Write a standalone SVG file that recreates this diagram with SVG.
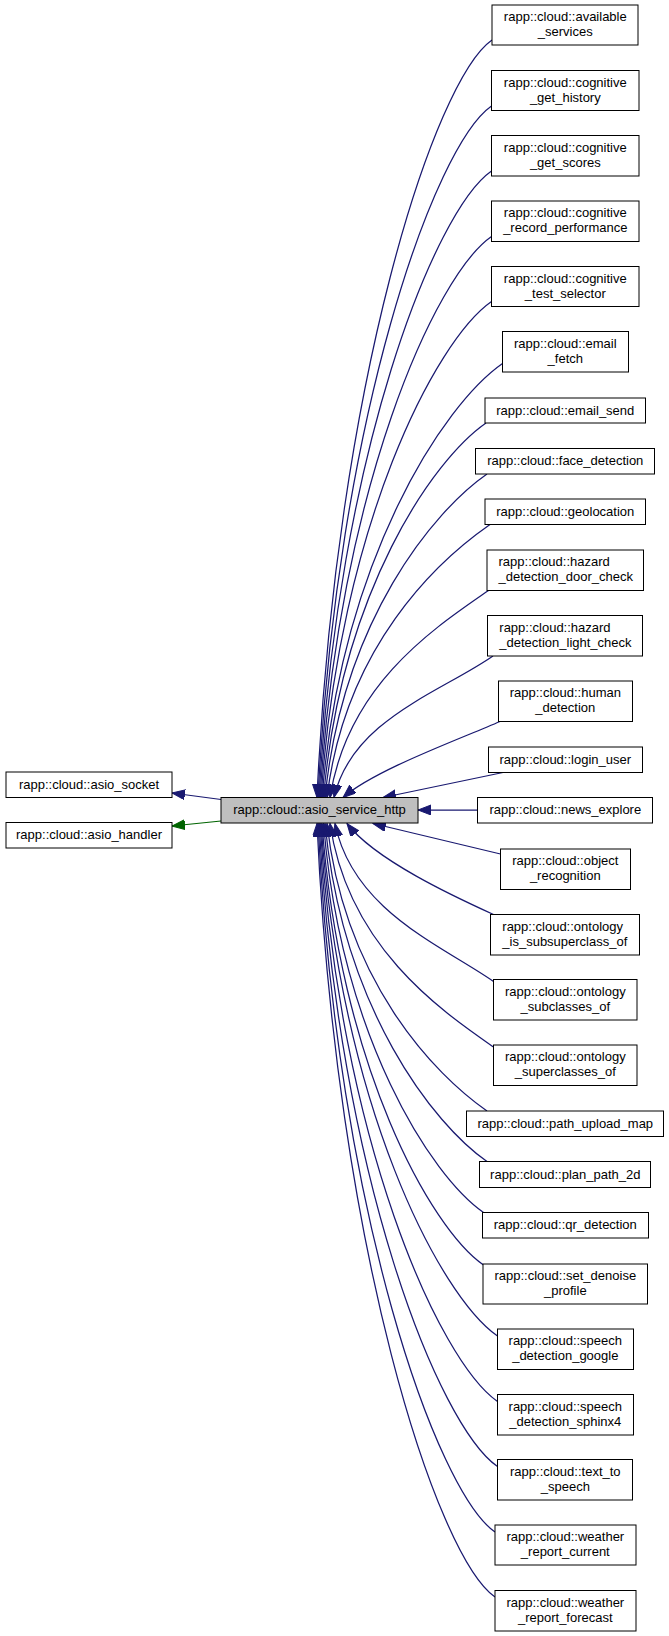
<svg xmlns="http://www.w3.org/2000/svg" width="669" height="1636" viewBox="0 0 669 1636">
<style>
.n rect{fill:#fff;stroke:#000;stroke-width:1}
#center rect{fill:#bfbfbf}
text{font-family:"Liberation Sans",Arial,Helvetica,sans-serif;font-size:13px;fill:#000;text-anchor:middle}
text.l{text-anchor:start}
#edges path{fill:none;stroke:#191970;stroke-width:1.25;marker-end:url(#ab)}
#edges path.g{stroke:#006400;marker-end:url(#ag)}
</style>
<defs>
<marker id="ab" markerUnits="userSpaceOnUse" markerWidth="14" markerHeight="11" refX="13" refY="5" orient="auto"><path d="M0,0 L13,5 L0,10 z" fill="#191970" stroke="#191970"/></marker>
<marker id="ag" markerUnits="userSpaceOnUse" markerWidth="14" markerHeight="11" refX="13" refY="5" orient="auto"><path d="M0,0 L13,5 L0,10 z" fill="#006400" stroke="#006400"/></marker>
</defs>
<rect width="669" height="1636" fill="#fff"/>
<g id="edges">
<path class="g" d="M221,821 L172,826"/>
<path d="M221,799.5 L172,793"/>
<path d="M492,40 C434.6,79.9 336,380.9 317,797.5"/>
<path d="M491.5,106 C434.6,145.6 336.9,417.2 318,797.5"/>
<path d="M491.5,171 C434.9,210.3 337.8,452.9 319,797.5"/>
<path d="M491.5,236.5 C435.2,275.6 338.7,488.9 320,797.5"/>
<path d="M491.5,301.5 C435.6,340.4 339.6,524.7 321,797.5"/>
<path d="M502.5,363.5 C443.3,404.7 341.4,558.8 322,797.5"/>
<path d="M486,423 C432.7,460 341.5,591.5 323.5,797.5"/>
<path d="M487,474 C433.9,510.9 343,619.6 325,797.5"/>
<path d="M490,524.5 C436.5,561.7 345,647.3 327,797.5"/>
<path d="M488.5,590.5 C436.5,626.6 347.7,683.6 330,797.5"/>
<path d="M493,656 C440.8,692.3 351.7,719.7 334,797.5"/>
<path d="M500,721.5 C455,741 375,770 343,797.5"/>
<path d="M503,772.5 L383,797.5"/>
<path d="M477.5,810 L418,810"/>
<path d="M500.5,854 L373,823.5"/>
<path d="M493.5,914.5 C455,897 375,860 347,823.5"/>
<path d="M493.5,981.5 C441.5,945.4 352.7,910.4 335,823.5"/>
<path d="M493.5,1047 C439.9,1009.7 348.1,946.4 330,823.5"/>
<path d="M487,1111 C434.5,1074.5 344.8,981.6 327,823.5"/>
<path d="M487,1161.5 C433.9,1124.6 343,1009.4 325,823.5"/>
<path d="M483.5,1212.5 C431,1176 341.3,1037.5 323.5,823.5"/>
<path d="M483.5,1265 C430.5,1228.2 339.9,1066.3 322,823.5"/>
<path d="M497.5,1336 C439.6,1295.8 340.1,1105.4 321,823.5"/>
<path d="M497.5,1401.5 C439.3,1361 339.2,1141.4 320,823.5"/>
<path d="M497.5,1466.5 C438.9,1425.8 338.3,1177.2 319,823.5"/>
<path d="M495,1532 C436.9,1491.6 337.2,1213.2 318,823.5"/>
<path d="M495,1597 C436.6,1556.4 336.2,1248.9 317,823.5"/>
</g>
<g id="center" class="n"><rect x="221" y="797.5" width="197" height="25.5"/><text x="319.5" y="814.25">rapp::cloud::asio_service_http</text></g>
<g id="asio_socket" class="n"><rect x="6" y="772" width="166" height="25.5"/><text x="89" y="788.75">rapp::cloud::asio_socket</text></g>
<g id="asio_handler" class="n"><rect x="6" y="822.5" width="166" height="25.5"/><text x="89" y="839.25">rapp::cloud::asio_handler</text></g>
<g id="available_services" class="n"><rect x="492" y="5" width="146" height="40"/><text x="565.3" y="21">rapp::cloud::available</text><text x="565.3" y="36">_services</text></g>
<g id="cognitive_get_history" class="n"><rect x="491.5" y="70.5" width="147.5" height="40"/><text x="565.3" y="86.5">rapp::cloud::cognitive</text><text x="565.3" y="101.5">_get_history</text></g>
<g id="cognitive_get_scores" class="n"><rect x="491.5" y="135.5" width="147.5" height="40.5"/><text x="565.3" y="151.75">rapp::cloud::cognitive</text><text x="565.3" y="166.75">_get_scores</text></g>
<g id="cognitive_record_performance" class="n"><rect x="491.5" y="201" width="147.5" height="40.5"/><text x="565.3" y="217.25">rapp::cloud::cognitive</text><text x="565.3" y="232.25">_record_performance</text></g>
<g id="cognitive_test_selector" class="n"><rect x="491.5" y="266.5" width="147.5" height="40"/><text x="565.3" y="282.5">rapp::cloud::cognitive</text><text x="565.3" y="297.5">_test_selector</text></g>
<g id="email_fetch" class="n"><rect x="502.5" y="331.5" width="126" height="40.5"/><text x="565.3" y="347.75">rapp::cloud::email</text><text x="565.3" y="362.75">_fetch</text></g>
<g id="email_send" class="n"><rect x="485" y="398" width="160.5" height="25"/><text x="565.3" y="414.5">rapp::cloud::email_send</text></g>
<g id="face_detection" class="n"><rect x="475.5" y="448.5" width="179" height="25.5"/><text x="565.3" y="465.25">rapp::cloud::face_detection</text></g>
<g id="geolocation" class="n"><rect x="485" y="499" width="160.5" height="25.5"/><text x="565.3" y="515.75">rapp::cloud::geolocation</text></g>
<g id="hazard_detection_door_check" class="n"><rect x="487" y="550" width="156.5" height="40.5"/><text class="l" x="498.5" y="566.25">rapp::cloud::hazard</text><text class="l" x="498.5" y="581.25">_detection_door_check</text></g>
<g id="hazard_detection_light_check" class="n"><rect x="487.5" y="615.5" width="155" height="40.5"/><text class="l" x="499.3" y="631.75">rapp::cloud::hazard</text><text class="l" x="499.3" y="646.75">_detection_light_check</text></g>
<g id="human_detection" class="n"><rect x="498.5" y="681" width="134" height="40.5"/><text x="565.3" y="697.25">rapp::cloud::human</text><text x="565.3" y="712.25">_detection</text></g>
<g id="login_user" class="n"><rect x="488.5" y="747" width="154" height="25.5"/><text x="565.3" y="763.75">rapp::cloud::login_user</text></g>
<g id="news_explore" class="n"><rect x="477.5" y="797.5" width="175" height="25.5"/><text x="565.3" y="814.25">rapp::cloud::news_explore</text></g>
<g id="object_recognition" class="n"><rect x="500.5" y="849" width="130" height="40.5"/><text x="565.3" y="865.25">rapp::cloud::object</text><text x="565.3" y="880.25">_recognition</text></g>
<g id="ontology_is_subsuperclass_of" class="n"><rect x="490.5" y="914.5" width="149" height="40.5"/><text class="l" x="502.3" y="930.75">rapp::cloud::ontology</text><text class="l" x="502.3" y="945.75">_is_subsuperclass_of</text></g>
<g id="ontology_subclasses_of" class="n"><rect x="493.5" y="979.5" width="143.5" height="40.5"/><text x="565.3" y="995.75">rapp::cloud::ontology</text><text x="565.3" y="1010.75">_subclasses_of</text></g>
<g id="ontology_superclasses_of" class="n"><rect x="493.5" y="1045" width="143.5" height="40.5"/><text x="565.3" y="1061.25">rapp::cloud::ontology</text><text x="565.3" y="1076.25">_superclasses_of</text></g>
<g id="path_upload_map" class="n"><rect x="466.5" y="1111" width="197" height="25.5"/><text x="565.3" y="1127.75">rapp::cloud::path_upload_map</text></g>
<g id="plan_path_2d" class="n"><rect x="479.5" y="1161.5" width="171" height="26"/><text x="565.3" y="1178.5">rapp::cloud::plan_path_2d</text></g>
<g id="qr_detection" class="n"><rect x="482.5" y="1212.5" width="166" height="25.5"/><text x="565.3" y="1229.25">rapp::cloud::qr_detection</text></g>
<g id="set_denoise_profile" class="n"><rect x="483" y="1264" width="164.5" height="40"/><text x="565.3" y="1280">rapp::cloud::set_denoise</text><text x="565.3" y="1295">_profile</text></g>
<g id="speech_detection_google" class="n"><rect x="497.5" y="1329" width="136" height="40.5"/><text x="565.3" y="1345.25">rapp::cloud::speech</text><text x="565.3" y="1360.25">_detection_google</text></g>
<g id="speech_detection_sphinx4" class="n"><rect x="497.5" y="1394.5" width="136" height="40.5"/><text x="565.3" y="1410.75">rapp::cloud::speech</text><text x="565.3" y="1425.75">_detection_sphinx4</text></g>
<g id="text_to_speech" class="n"><rect x="497.5" y="1459.5" width="135" height="40.5"/><text x="565.3" y="1475.75">rapp::cloud::text_to</text><text x="565.3" y="1490.75">_speech</text></g>
<g id="weather_report_current" class="n"><rect x="495" y="1525" width="141" height="40"/><text x="565.3" y="1541">rapp::cloud::weather</text><text x="565.3" y="1556">_report_current</text></g>
<g id="weather_report_forecast" class="n"><rect x="495" y="1590.5" width="141" height="40.5"/><text x="565.3" y="1606.75">rapp::cloud::weather</text><text x="565.3" y="1621.75">_report_forecast</text></g>
</svg>
